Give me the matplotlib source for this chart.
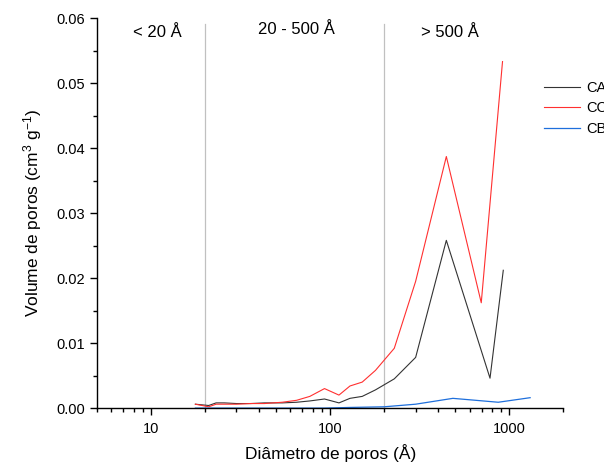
import matplotlib.pyplot as plt
from matplotlib.ticker import LogLocator, MultipleLocator, FormatStrFormatter, NullFormatter

plt.rcParams['font.family'] = ['Liberation Sans', 'DejaVu Sans']
plt.rcParams['mathtext.fontset'] = 'custom'
plt.rcParams['mathtext.rm'] = 'Liberation Sans'
plt.rcParams['mathtext.default'] = 'regular'

# ── data ──────────────────────────────────────────────────────────────────────
ca_d = [17.7, 21.0, 23.1, 25.7, 30, 36, 43, 54, 65, 77, 93, 112, 129, 151, 179, 228, 300, 445, 780, 925]
ca_v = [0.0006, 0.0004, 0.0008, 0.0008, 0.0007, 0.0007, 0.0008, 0.0008, 0.0009, 0.0011, 0.0014,
        0.0008, 0.0015, 0.0018, 0.0028, 0.0045, 0.0078, 0.0258, 0.0046, 0.0212]

cc_d = [17.7, 21.0, 23.1, 25.7, 30, 36, 43, 54, 65, 77, 93, 112, 129, 151, 179, 228, 300, 445, 697, 916]
cc_v = [0.0006, 0.0002, 0.0006, 0.0006, 0.0006, 0.0007, 0.0007, 0.0009, 0.0012, 0.0018, 0.0030,
        0.0020, 0.0034, 0.0040, 0.0058, 0.0092, 0.0195, 0.0387, 0.0162, 0.0533]

cb_d = [17.7, 30, 54, 93, 129, 200, 300, 484, 867, 1306]
cb_v = [0.0000, 0.0000, 0.0000, 0.0000, 0.0001, 0.0002, 0.0006, 0.0015, 0.0009, 0.0016]

regions = ['< 20 Å', '20 - 500 Å', '> 500 Å']
region_x = [10.9, 65, 464]
region_y = [0.0577, 0.0582, 0.0577]
limits = [20, 200]

# ── plot ──────────────────────────────────────────────────────────────────────
fig = plt.figure(figsize=(6.04, 4.68), dpi=100)
ax = fig.add_axes([0.1606, 0.128, 0.772, 0.8335])

for xv in limits:
    ax.axvline(xv, ymax=0.985, color='#c0c0c0', lw=0.9, zorder=1)

ax.plot(ca_d, ca_v, color='#333333', lw=0.8, label='CA')
ax.plot(cc_d, cc_v, color='#ff3030', lw=0.8, label='CC')
ax.plot(cb_d, cb_v, color='#1e6fdc', lw=0.9, label='CB')

ax.set_xscale('log')
ax.set_xlim(5, 2000)
ax.set_ylim(0, 0.06)

for txt, xv, yv in zip(regions, region_x, region_y):
    ax.text(xv, yv, txt, ha='center', va='center', fontsize=12)

ax.xaxis.set_major_locator(LogLocator(base=10))
ax.xaxis.set_minor_locator(LogLocator(base=10, subs=range(2, 10)))
ax.xaxis.set_minor_formatter(NullFormatter())
ax.xaxis.set_major_formatter(FormatStrFormatter('%d'))
ax.yaxis.set_major_locator(MultipleLocator(0.01))
ax.yaxis.set_minor_locator(MultipleLocator(0.005))
ax.yaxis.set_major_formatter(FormatStrFormatter('%.2f'))

ax.tick_params(which='major', direction='out', length=5, width=1, labelsize=10.5)
ax.tick_params(which='minor', direction='out', length=3, width=1)
ax.tick_params(axis='x', which='major', pad=5)
for s in ['top', 'right']:
    ax.spines[s].set_visible(False)
for s in ['left', 'bottom']:
    ax.spines[s].set_linewidth(1.0)

ax.set_xlabel('Diâmetro de poros (Å)', fontsize=12.5, labelpad=6)
ax.set_ylabel('Volume de poros (cm$^3$ g$^{-1}$)', fontsize=12.5, labelpad=9)

fig.legend(loc='upper left', bbox_to_anchor=(0.888, 0.843), frameon=False,
           fontsize=10.5, handlelength=2.5, handletextpad=0.45, labelspacing=0.45,
           borderpad=0)

plt.savefig('out.png', dpi=100)
plt.close()
